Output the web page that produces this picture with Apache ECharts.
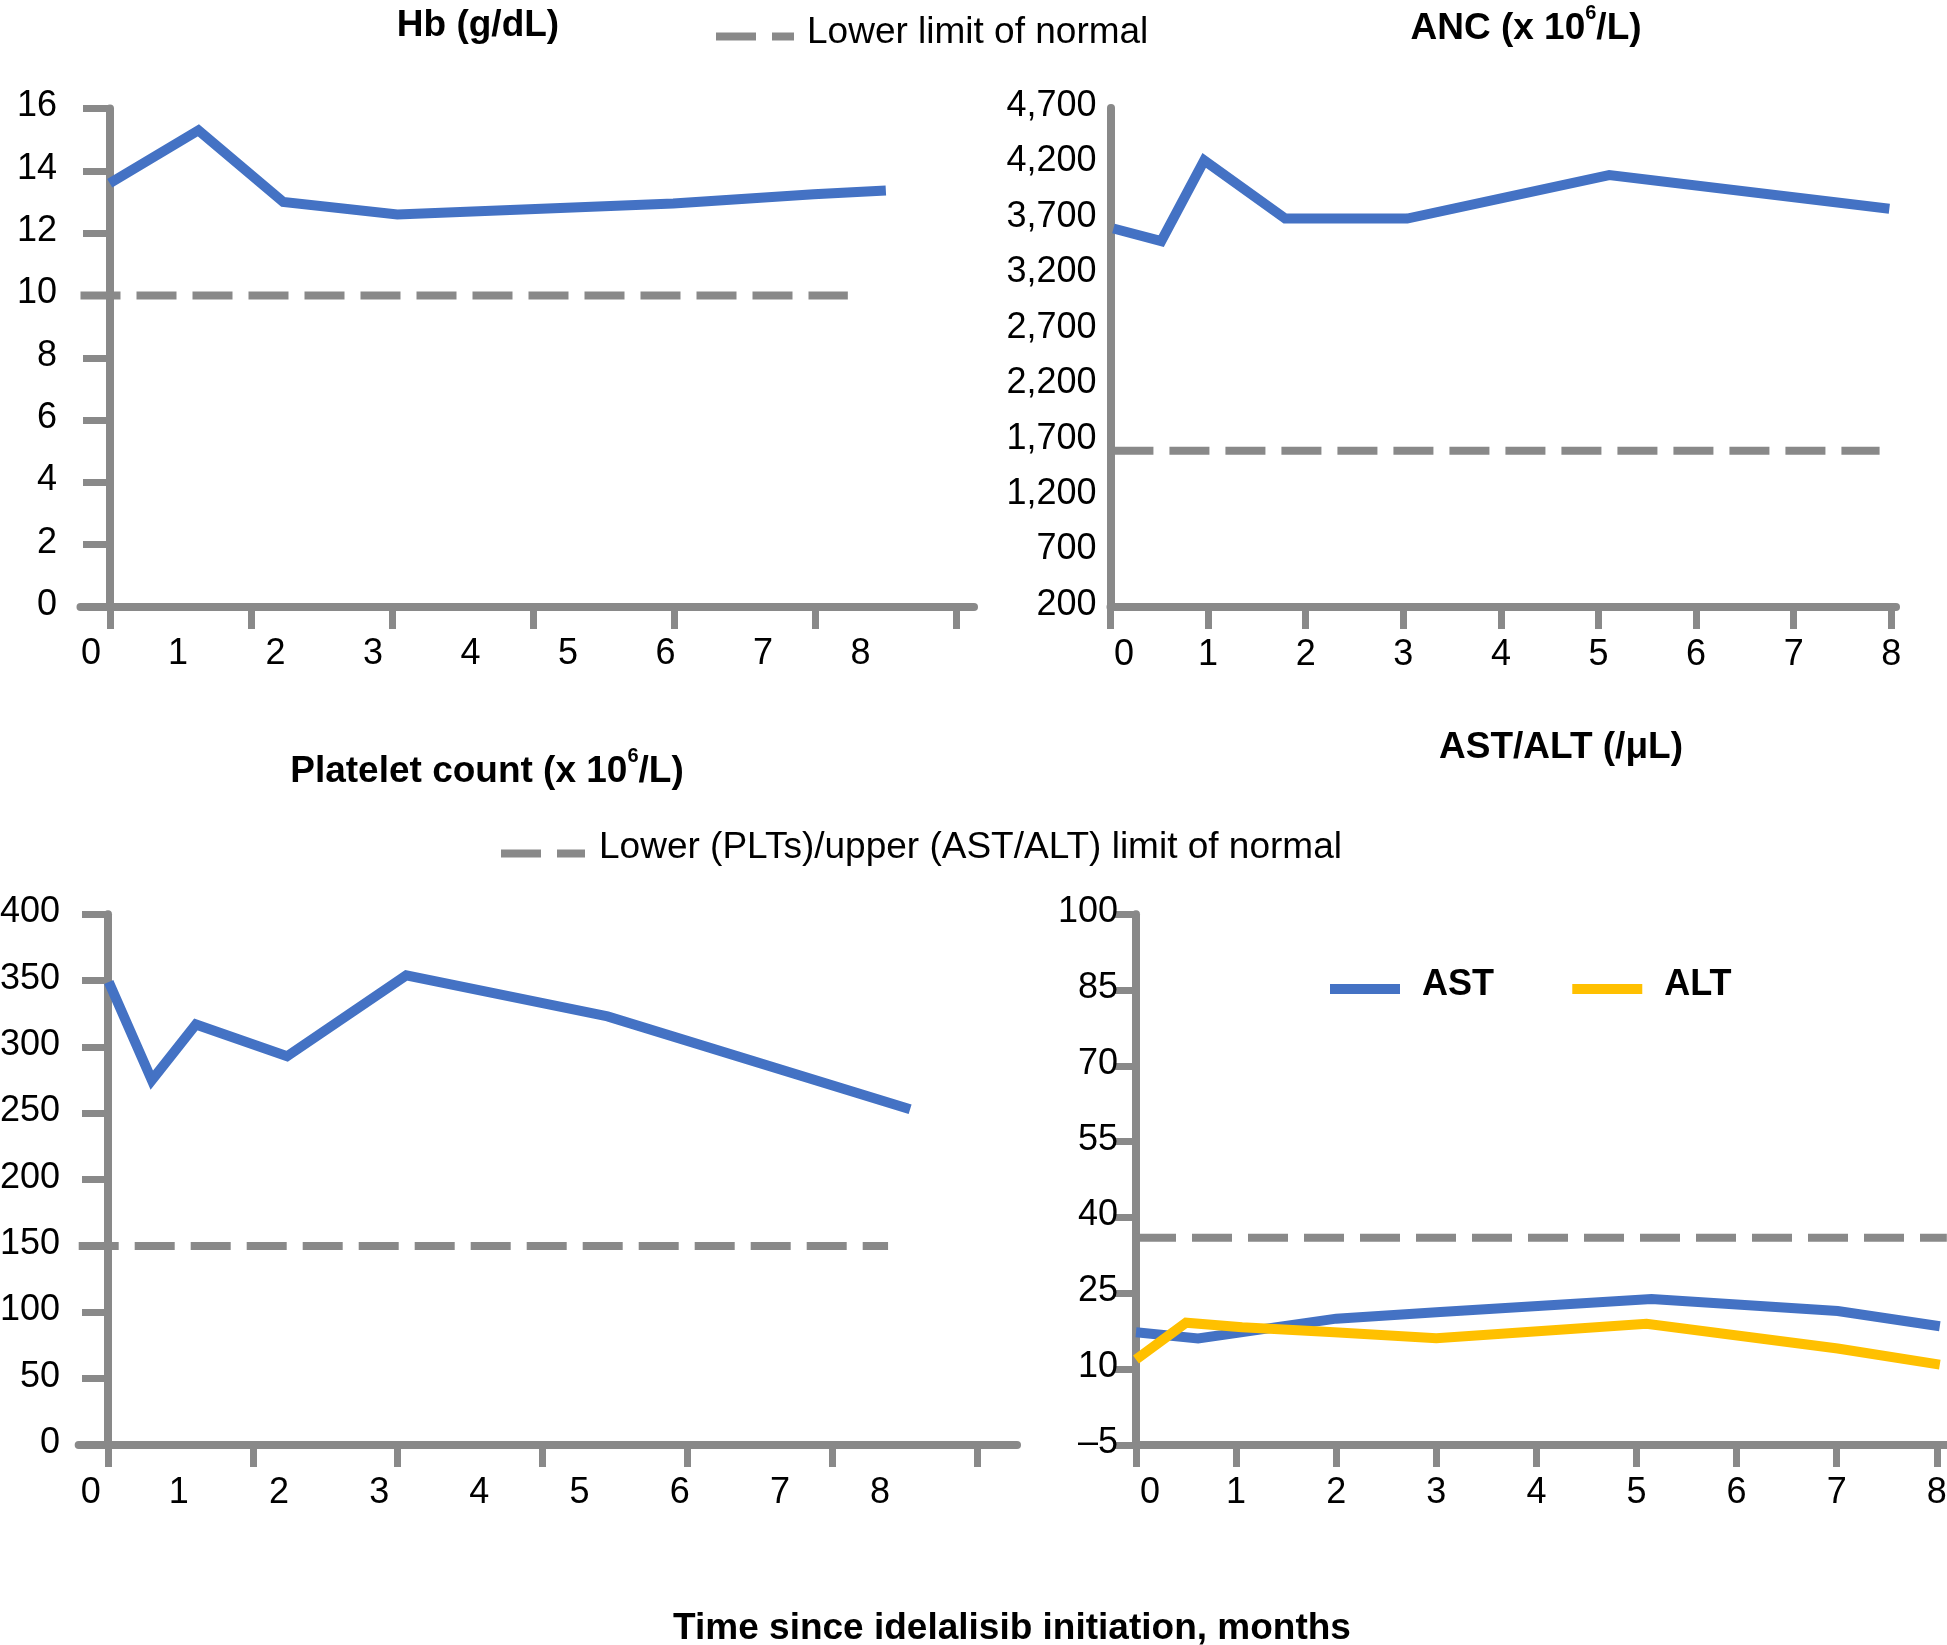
<!DOCTYPE html>
<html><head><meta charset="utf-8">
<script src="https://cdn.jsdelivr.net/npm/echarts@6/dist/echarts.min.js"></script>
<style>html,body{margin:0;padding:0;background:#fff}#c{width:1947px;height:1645px}</style>
</head><body><div id="c"></div>
<script>
// ---------------- data ----------------
const xTickLabels = [0, 1, 2, 3, 4, 5, 6, 7, 8];

const hbMonths = [0.30, 1.21, 2.08, 3.25, 6.08, 7.52, 8.26];
const hbValues = [13.6, 15.3, 13.0, 12.6, 12.95, 13.25, 13.37];
const hbLimit = 10;
const hbLimitMonths = [0, 7.87];

const ancMonths = [0.03, 0.52, 0.96, 1.79, 3.04, 5.11, 7.98];
const ancValues = [3613, 3500, 4228, 3703, 3703, 4095, 3792];
const ancLimit = 1610;
const ancLimitMonths = [0.03, 7.88];

const pltMonths = [0.30, 0.73, 1.17, 2.08, 3.27, 5.28, 8.30];
const pltValues = [349, 275, 317, 293, 354, 323, 253];
const pltLimit = 150;
const pltLimitMonths = [0, 8.08];

const astMonths = [0, 0.62, 2.0, 3.04, 5.15, 7.01, 8.03];
const astValues = [17.3, 16.1, 20.0, 21.3, 23.9, 21.5, 18.5];
const altMonths = [0, 0.5, 1.06, 1.98, 3.0, 5.1, 7.01, 8.03];
const altValues = [11.9, 19.2, 18.3, 17.3, 16.1, 19.0, 14.1, 10.9];
const astAltLimit = 36;
const astAltLimitMonths = [0, 8.1];

const legendTop = 'Lower limit of normal';
const legendBottom = 'Lower (PLTs)/upper (AST/ALT) limit of normal';

// ---------------- styling ----------------
const GRAY = '#898989';
const BLUE = '#4472C4';
const YELLOW = '#FFC000';
const FONT = '"Liberation Sans", Arial, Helvetica, sans-serif';
const zip = (a, b) => a.map((v, i) => [v, b[i]]);

function seqTicks(start, step, n) { const r = []; for (let i = 0; i < n; i++) r.push(+(start + i * step).toFixed(4)); return r; }

const grids = [
  { left: 80.5, top: 108.5, width: 893.5, height: 498.5 },
  { left: 1110.5, top: 108, width: 785.5, height: 499 },
  { left: 78.7, top: 914.3, width: 938.3, height: 530.7 },
  { left: 1136, top: 914.3, width: 811, height: 530.7 }
].map(g => Object.assign({ containLabel: false, outerBoundsMode: 'none' }, g));

function xAxisFor(gi, max, tickVals, zeroShift, margin) {
  return {
    type: 'value', gridIndex: gi, min: 0, max: max,
    axisLine: { show: true, onZero: false, lineStyle: { color: GRAY, width: 8 } },
    axisTick: { show: true, inside: false, length: 22, customValues: tickVals, lineStyle: { color: GRAY, width: 7 } },
    axisLabel: {
      customValues: xTickLabels, margin: margin, fontSize: 36, color: '#000', fontFamily: FONT,
      formatter: v => v === 0 ? '{z|0}' : String(v),
      rich: { z: { padding: [0, 0, 0, zeroShift * 2], fontSize: 36, color: '#000', fontFamily: FONT } }
    },
    splitLine: { show: false }
  };
}
function yAxisFor(gi, min, max, interval, offset, tickShow, tickLen, margin, fmt) {
  return {
    type: 'value', gridIndex: gi, min: min, max: max, interval: interval, offset: offset,
    axisLine: { show: true, onZero: false, lineStyle: { color: GRAY, width: 8 } },
    axisTick: { show: tickShow, inside: false, length: tickLen, lineStyle: { color: GRAY, width: 7 } },
    axisLabel: { margin: margin, fontSize: 36, color: '#000', fontFamily: FONT, verticalAlign: 'bottom', lineHeight: 4, formatter: fmt },
    splitLine: { show: false }
  };
}

const xAxes = [
  xAxisFor(0, 893.5 / 97.5, seqTicks(0.3026, 1.446, 7), 10.5, 29),
  xAxisFor(1, 785.5 / 97.6, xTickLabels, 13.5, 30),
  xAxisFor(2, 938.3 / 100.17, seqTicks(0.2925, 1.4455, 7), 12, 30),
  xAxisFor(3, 811 / 100.1, xTickLabels, 14, 30)
];
const yAxes = [
  yAxisFor(0, 0, 16, 2, -29.5, true, 27, 53, v => String(v)),
  yAxisFor(1, 200, 4700, 500, 0, false, 0, 14, v => v.toLocaleString('en-US')),
  yAxisFor(2, 0, 400, 50, -29.3, true, 26, 48, v => String(v)),
  yAxisFor(3, -5, 100, 15, 0, true, 21, 18, v => v < 0 ? '\u2013' + Math.abs(v) : String(v))
];

function solid(name, gi, months, vals, color) {
  return { type: 'line', name: name, xAxisIndex: gi, yAxisIndex: gi, data: zip(months, vals),
    symbol: 'none', showSymbol: false, lineStyle: { color: color, width: 10, join: 'miter' },
    itemStyle: { color: color }, z: 4, animation: false };
}
function dashed(name, gi, range, val) {
  return { type: 'line', name: name, xAxisIndex: gi, yAxisIndex: gi,
    data: range.map(m => [m, val]), symbol: 'none', showSymbol: false, clip: false,
    lineStyle: { color: GRAY, width: 8, type: [40, 16], cap: 'butt' },
    itemStyle: { color: GRAY }, z: 3, animation: false };
}

const series = [
  dashed(legendTop, 0, hbLimitMonths, hbLimit),
  solid('Hb', 0, hbMonths, hbValues, BLUE),
  dashed(legendTop, 1, ancLimitMonths, ancLimit),
  solid('ANC', 1, ancMonths, ancValues, BLUE),
  dashed(legendBottom, 2, pltLimitMonths, pltLimit),
  solid('Platelet count', 2, pltMonths, pltValues, BLUE),
  dashed(legendBottom, 3, astAltLimitMonths, astAltLimit),
  solid('AST', 3, astMonths, astValues, BLUE),
  solid('ALT', 3, altMonths, altValues, YELLOW)
];

const TFS = 37;
const boldText = { fontSize: TFS, fontWeight: 'bold', color: '#000', fontFamily: FONT, lineHeight: 37 };
const supRich = {
  b: { fontSize: TFS, fontWeight: 'bold', color: '#000', fontFamily: FONT, lineHeight: 52, verticalAlign: 'middle' },
  s: { fontSize: 20, fontWeight: 'bold', color: '#000', fontFamily: FONT, lineHeight: 20, verticalAlign: 'top' }
};
function title(text, cx, top, rich) {
  const t = { text: text, left: cx, top: top, textAlign: 'center', padding: 0, itemGap: 0,
    textStyle: Object.assign({}, boldText) };
  if (rich) { t.textStyle.rich = supRich; t.textStyle.lineHeight = 52; }
  return t;
}

function legendText(size, bold, boxH, padLeft) {
  return {
    fontSize: size, color: '#000', fontFamily: FONT, padding: [0, 0, 0, padLeft],
    rich: {
      t: { fontSize: size, fontWeight: bold ? 'bold' : 'normal', lineHeight: size, verticalAlign: 'top', color: '#000', fontFamily: FONT },
      h: { fontSize: 1, lineHeight: boxH, verticalAlign: 'middle', color: 'rgba(0,0,0,0)' }
    }
  };
}
const legendFmt = name => '{t|' + name + '}{h| }';

const option = {
  backgroundColor: '#fff',
  animation: false,
  title: [
    title('Hb (g/dL)', 478, 7),
    title('{b|ANC (x 10}{s|6}{b|/L)}', 1526, 3, true),
    title('{b|Platelet count (x 10}{s|6}{b|/L)}', 487, 746, true),
    title('AST/ALT (/\u03bcL)', 1561, 729),
    title('Time since idelalisib initiation, months', 1012, 1610)
  ],
  legend: [
    { data: [legendTop], left: 712, top: 14.25, padding: 0, itemWidth: 78, itemHeight: 8, selectedMode: false,
      itemStyle: { opacity: 0 }, lineStyle: { width: 8, type: [40, 16], cap: 'butt' },
      formatter: legendFmt, textStyle: legendText(37, false, 44.5, 8) },
    { data: [legendBottom], left: 497, top: 829, padding: 0, itemWidth: 84, itemHeight: 8, selectedMode: false,
      itemStyle: { opacity: 0 }, lineStyle: { width: 8, type: [40, 16], cap: 'butt' },
      formatter: legendFmt, textStyle: legendText(37, false, 49, 9) },
    { data: ['AST', 'ALT'], left: 1325, top: 967.25, padding: 0, itemWidth: 70, itemHeight: 10, itemGap: 73, selectedMode: false,
      itemStyle: { opacity: 0 }, lineStyle: { width: 10, type: 'solid' },
      formatter: legendFmt, textStyle: legendText(36, true, 43.5, 17) }
  ],
  grid: grids,
  xAxis: xAxes,
  yAxis: yAxes,
  series: series
};

const chart = echarts.init(document.getElementById('c'), null, { renderer: 'canvas', width: 1947, height: 1645 });
chart.setOption(option);
</script>
</body></html>
